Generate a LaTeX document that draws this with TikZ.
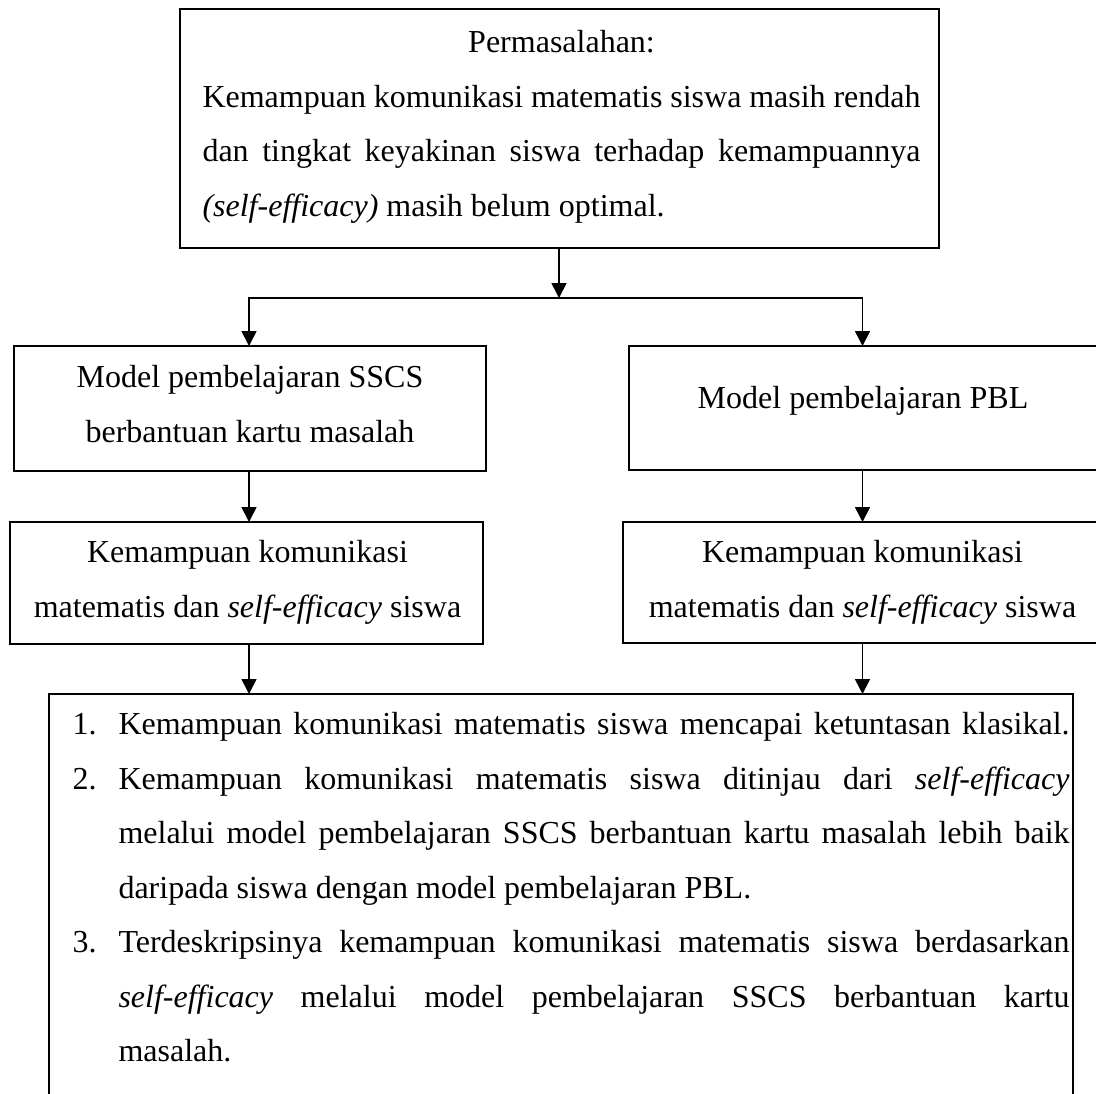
\documentclass[tikz,border=0pt]{standalone}
\usepackage{fontspec}
\setmainfont{Liberation Serif}
\usetikzlibrary{arrows.meta}
\newcommand{\myJ}[1]{\makebox[\linewidth][s]{\spaceskip=0pt\xspaceskip=0pt #1}\par}
\newcommand{\myC}[1]{\makebox[\linewidth][c]{\spaceskip=0pt\xspaceskip=0pt #1}\par}
\newcommand{\myL}[1]{\makebox[\linewidth][l]{\spaceskip=0pt\xspaceskip=0pt #1}\par}
\newcommand{\myNJ}[2]{\makebox[17.25pt][l]{#1}\makebox[356.625pt][s]{\spaceskip=0pt\xspaceskip=0pt #2}\par}
\newcommand{\myIJ}[1]{\hspace*{17.25pt}\makebox[356.625pt][s]{\spaceskip=0pt\xspaceskip=0pt #1}\par}
\newcommand{\myIL}[1]{\hspace*{17.25pt}\makebox[356.625pt][l]{\spaceskip=0pt\xspaceskip=0pt #1}\par}
\begin{document}
\begin{tikzpicture}[x=0.375pt,y=-0.375pt,
  box/.style={draw, line width=1.1pt, inner sep=0pt, outer sep=0pt},
  txt/.style={inner sep=0pt, font=\fontsize{12pt}{20.44pt}\selectfont},
  blk/.style={txt, align=justify},
  conn/.style={line width=0.65pt},
  tip/.tip={Triangle[width=5.6pt,length=5.6pt]},
  arr/.style={conn, -tip}]
\useasboundingbox (0,0) rectangle (1096,1093);
\clip (0,0) rectangle (1096,1093);
\fill[white] (0,0) rectangle (1096,1093);

% boxes
\node[box, minimum width=284.625pt, minimum height=89.625pt] (top) at (559.5,128.5) {};
\node[box, minimum width=177pt, minimum height=46.875pt] (modL) at (250,408.5) {};
\node[box, minimum width=176.625pt, minimum height=46.5pt] (modR) at (864.5,408) {};
\node[box, minimum width=177.375pt, minimum height=45.75pt] (kemL) at (246.5,583) {};
\node[box, minimum width=179.625pt, minimum height=45.375pt] (kemR) at (862.5,582.5) {};
\node[box, minimum width=384pt, minimum height=163.5pt] (res) at (561,912) {};

% texts
\node[blk, text width=269.25pt, anchor=north west] (toptext) at (202,30)
 {\myC{Permasalahan:}\myJ{Kemampuan komunikasi matematis siswa masih rendah}\myJ{dan tingkat keyakinan siswa terhadap kemampuannya}\myL{\textit{(self-efficacy)} masih belum optimal.}};
\node[blk, text width=177pt, anchor=north] (modLt) at (250,365)
 {\myC{Model pembelajaran SSCS}\myC{berbantuan kartu masalah}};
\node[txt, anchor=base] (modRt) at (863,409) {Model pembelajaran PBL};
\node[blk, text width=177pt, anchor=north] (kemLt) at (247.5,540)
 {\myC{Kemampuan komunikasi}\myC{matematis dan \textit{self-efficacy} siswa}};
\node[blk, text width=177pt, anchor=north] (kemRt) at (862.5,540)
 {\myC{Kemampuan komunikasi}\myC{matematis dan \textit{self-efficacy} siswa}};
\node[blk, text width=373.875pt, anchor=north west] (restext) at (72,712)
 {\myNJ{1.}{Kemampuan komunikasi matematis siswa mencapai ketuntasan klasikal.}%
  \myNJ{2.}{Kemampuan komunikasi matematis siswa ditinjau dari \textit{self-efficacy}}%
  \myIJ{melalui model pembelajaran SSCS berbantuan kartu masalah lebih baik}%
  \myIL{daripada siswa dengan model pembelajaran PBL.}%
  \myNJ{3.}{Terdeskripsinya kemampuan komunikasi matematis siswa berdasarkan}%
  \myIJ{\textit{self-efficacy} melalui model pembelajaran SSCS berbantuan kartu}%
  \myIL{masalah.}};

% connectors
\coordinate (J) at (559,298);
\coordinate (JL) at (249,298);
\coordinate (JR) at (862.5,298);
\draw[arr] (top.south -| J) -- (J);
\draw[conn, tip-tip] (JL |- modL.north) -- (JL) -- (JR) -- (JR |- modR.north);
\draw[arr] (JL |- modL.south) -- (JL |- kemL.north);
\draw[arr] (JR |- modR.south) -- (JR |- kemR.north);
\draw[arr] (JL |- kemL.south) -- (JL |- res.north);
\draw[arr] (JR |- kemR.south) -- (JR |- res.north);
\end{tikzpicture}
\end{document}
